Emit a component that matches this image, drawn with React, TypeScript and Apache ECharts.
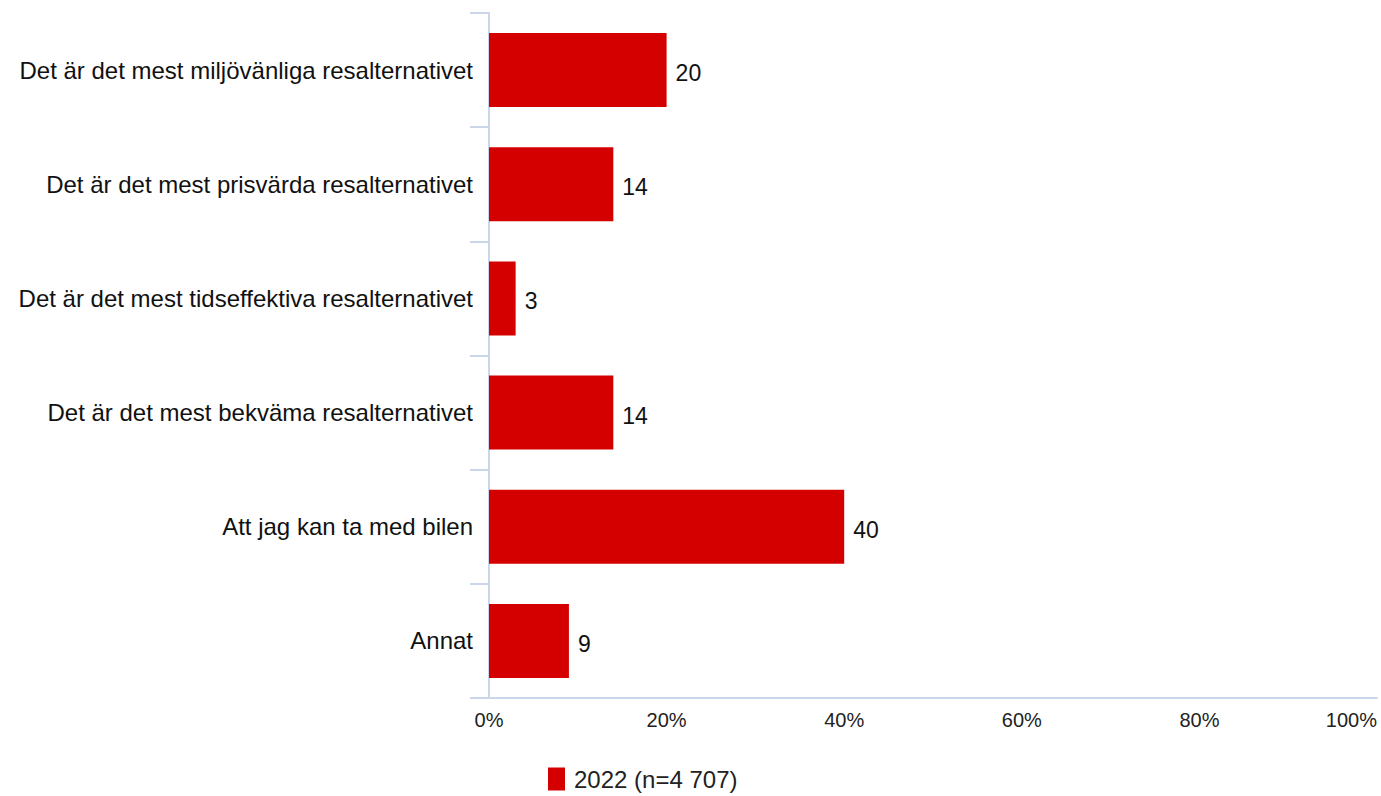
import React, { useEffect, useRef } from "react";
import * as echarts from "echarts";

const categories = [
  "Det är det mest miljövänliga resalternativet",
  "Det är det mest prisvärda resalternativet",
  "Det är det mest tidseffektiva resalternativet",
  "Det är det mest bekväma resalternativet",
  "Att jag kan ta med bilen",
  "Annat",
];
const values = [20, 14, 3, 14, 40, 9];
const seriesName = "2022 (n=4 707)";
const xTicks = [0, 20, 40, 60, 80, 100];

export default function App() {
  const ref = useRef<HTMLDivElement>(null);
  useEffect(() => {
    const chart = echarts.init(ref.current!, null, { renderer: "svg" });
    const font = "Liberation Sans, Arial, sans-serif";
    chart.setOption({
      animation: false,
      textStyle: { fontFamily: font },
      grid: { left: 489, right: 4, top: 13, bottom: 98, containLabel: false },
      legend: {
        data: [seriesName],
        bottom: 0,
        left: 543,
        itemWidth: 17,
        itemHeight: 23,
        itemGap: 8,
        icon: "rect",
        textStyle: { fontSize: 24, color: "#222", fontFamily: font, padding: [0, 0, 0, 4] },
      },
      xAxis: {
        type: "value",
        min: xTicks[0],
        max: xTicks[xTicks.length - 1],
        interval: 20,
        axisLine: { show: true, lineStyle: { color: "#ccd6eb", width: 2 } },
        axisTick: { show: false },
        splitLine: { show: false },
        axisLabel: {
          formatter: "{value}%",
          fontSize: 20,
          color: "#222",
          margin: 12,
          alignMaxLabel: "right",
          fontFamily: font,
        },
      },
      yAxis: {
        type: "category",
        inverse: true,
        data: categories,
        axisLine: { show: true, lineStyle: { color: "#ccd6eb", width: 2 } },
        axisTick: { show: true, length: 19, lineStyle: { color: "#ccd6eb", width: 2 } },
        axisLabel: { fontSize: 24, color: "#111", margin: 16, fontFamily: font },
      },
      series: [
        {
          name: seriesName,
          type: "bar",
          data: values,
          barWidth: 74,
          itemStyle: { color: "#d40000" },
          label: {
            show: true,
            position: "right",
            distance: 9,
            fontSize: 23,
            color: "#111",
            fontFamily: font,
            offset: [0, 3],
          },
        },
      ],
    });
    return () => chart.dispose();
  }, []);
  return (
    <div
      ref={ref}
      style={{ position: "fixed", left: 0, top: 0, width: 1381, height: 796, background: "#fff" }}
    />
  );
}
